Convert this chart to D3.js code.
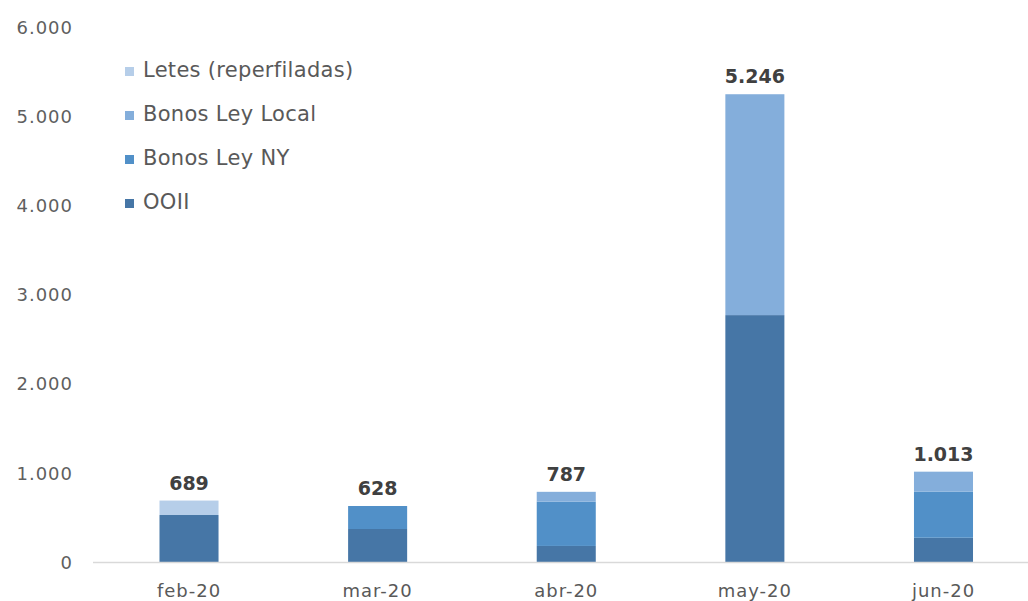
<!DOCTYPE html>
<html><head><meta charset="utf-8">
<script src="https://cdn.jsdelivr.net/npm/d3@7"></script>
<style>body{margin:0;background:#fff}svg{display:block}</style>
</head><body>
<svg id="c" width="1028" height="601"></svg>
<script>
const categories = ["feb-20","mar-20","abr-20","may-20","jun-20"];
const seriesNames = ["OOII","Bonos Ley NY","Bonos Ley Local","Letes (reperfiladas)"];
const ooii      = [527, 370, 180, 2769, 272];
const bonosNY   = [0, 258, 496, 0, 516];
const bonosLocal= [0, 0, 111, 2477, 225];
const letes     = [162, 0, 0, 0, 0];
const totals    = [689, 628, 787, 5246, 1013];
const yTicks    = [0,1000,2000,3000,4000,5000,6000];
const colors = ["#4676a6","#5190c8","#84aedb","#b6cee9"];

const FONT = "'DejaVu Sans', 'Open Sans', sans-serif";
const locale = d3.formatLocale({decimal:",", thousands:".", grouping:[3], currency:["$",""]});
const fmt = locale.format(",d");

const svg = d3.select("#c");
const x = d3.scaleBand().domain(categories).range([94.7,1037.8]).paddingInner(0.687).paddingOuter(0.3435);
const y = d3.scaleLinear().domain([0,6000]).range([562,27]);

const rows = categories.map((c,i)=>({cat:c, "OOII":ooii[i], "Bonos Ley NY":bonosNY[i], "Bonos Ley Local":bonosLocal[i], "Letes (reperfiladas)":letes[i]}));
const stack = d3.stack().keys(seriesNames)(rows);

svg.append("g").selectAll("g").data(stack).join("g").attr("fill",(d,i)=>colors[i])
  .selectAll("rect").data(d=>d).join("rect")
  .attr("x",d=>x(d.data.cat)).attr("width",x.bandwidth())
  .attr("y",d=>y(d[1])).attr("height",d=>y(d[0])-y(d[1]));

// baseline
svg.append("line").attr("x1",93).attr("x2",1028).attr("y1",y(0)+0.5).attr("y2",y(0)+0.5)
  .attr("stroke","#d9d9d9").attr("stroke-width",1.5);

// y axis labels
const yAxis = d3.axisLeft(y).tickValues(yTicks).tickFormat(fmt).tickSize(0).tickPadding(0);
const ga = svg.append("g").attr("transform","translate(73,0)").call(yAxis);
ga.select(".domain").remove();
ga.selectAll("text").attr("font-family",FONT).attr("font-size",18).attr("letter-spacing",1)
  .attr("fill","#5f5f5f").attr("dy","0.35em");

// x axis labels
const xAxis = d3.axisBottom(x).tickSize(0).tickPadding(0);
const gx = svg.append("g").call(xAxis);
gx.select(".domain").remove();
gx.selectAll("text").attr("font-family",FONT).attr("font-size",18).attr("letter-spacing",1)
  .attr("fill","#595959").attr("y",597).attr("dy",0);

// totals
svg.append("g").selectAll("text").data(categories).join("text")
  .attr("x",d=>x(d)+x.bandwidth()/2).attr("y",(d,i)=>y(totals[i])-11)
  .attr("text-anchor","middle").attr("font-family",FONT)
  .attr("font-weight","bold").attr("font-size",19).attr("fill","#404040")
  .text((d,i)=>fmt(totals[i]));

// legend
const legendOrder = ["Letes (reperfiladas)","Bonos Ley Local","Bonos Ley NY","OOII"];
const lg = svg.append("g").selectAll("g").data(legendOrder).join("g")
  .attr("transform",(d,i)=>`translate(125,${77+i*44})`);
lg.append("rect").attr("x",0).attr("y",-10).attr("width",9).attr("height",9)
  .attr("fill",d=>colors[seriesNames.indexOf(d)]);
lg.append("text").attr("x",18).attr("y",0)
  .attr("font-family",FONT).attr("font-size",21).attr("letter-spacing",0.3).attr("fill","#595959")
  .text(d=>d);
</script>
</body></html>
